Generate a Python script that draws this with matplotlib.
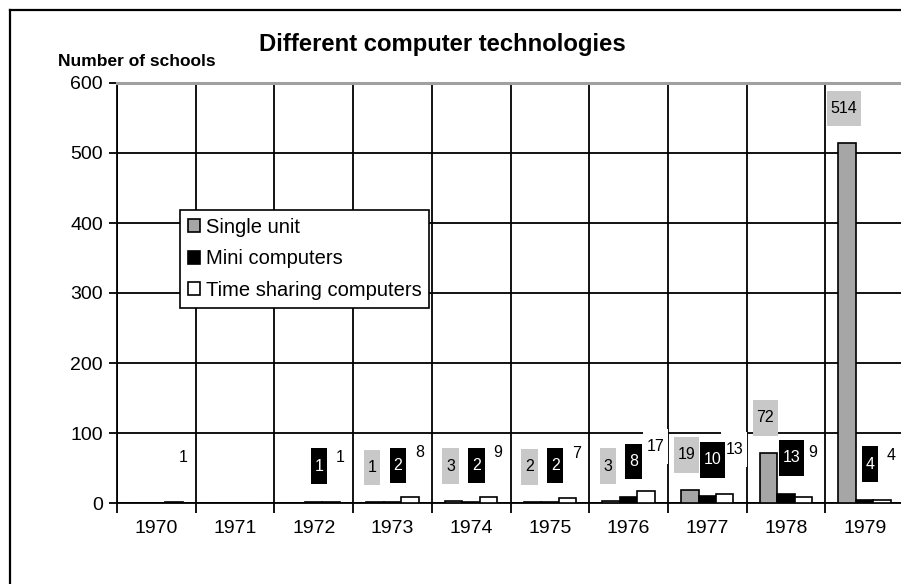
import numpy as np
import matplotlib
matplotlib.use("Agg")
import matplotlib.pyplot as plt
from matplotlib.path import Path
from matplotlib.lines import Line2D

plt.rcParams['font.family'] = ['Liberation Sans', 'DejaVu Sans']

years = ["1970", "1971", "1972", "1973", "1974", "1975", "1976", "1977", "1978", "1979"]
single_unit = [np.nan, np.nan, np.nan, 1, 3, 2, 3, 19, 72, 514]
mini_computers = [np.nan, np.nan, 1, 2, 2, 2, 8, 10, 13, 4]
time_sharing = [1, np.nan, 1, 8, 9, 7, 17, 13, 9, 4]
series_names = ["Single unit", "Mini computers", "Time sharing computers"]
yticks = [0, 100, 200, 300, 400, 500, 600]

fig = plt.figure(figsize=(9.01, 5.84), dpi=100)
ax = fig.add_axes([117/901, 1-503/584, 787/901, 420/584])

x = np.arange(len(years))
w = 0.222
series = [single_unit, mini_computers, time_sharing]
fills = ['#a6a6a6', '#000000', '#ffffff']
box_fc = ['#c8c8c8', '#000000', '#ffffff']
txt_c = ['#000000', '#ffffff', '#000000']
offsets = [-w, 0, w]
label_dx = [-2.2, 3.8, 6.8]     # points
label_dy = [25, 26, 32]         # points
zorders = [5, 5.2, 5.1]

def tallbox(x0, y0, width, height, mutation_size):
    padx = 0.24 * mutation_size
    pady = 0.64 * mutation_size
    verts = [(x0 - padx, y0 - pady), (x0 + width + padx, y0 - pady),
             (x0 + width + padx, y0 + height + pady), (x0 - padx, y0 + height + pady),
             (x0 - padx, y0 - pady)]
    return Path(verts, closed=True)

for s, vals in enumerate(series):
    vals = np.array(vals, dtype=float)
    ax.bar(x + offsets[s], np.nan_to_num(vals), width=w, color=fills[s],
           edgecolor='black', linewidth=1.2, zorder=3, label=series_names[s])
    for i, v in enumerate(vals):
        if np.isnan(v):
            continue
        ax.annotate(f"{int(v)}", (x[i] + offsets[s], v), xytext=(label_dx[s], label_dy[s]),
                    textcoords='offset points', ha='center', va='center',
                    fontsize=11.5, color=txt_c[s], zorder=zorders[s],
                    bbox=dict(boxstyle=tallbox, fc=box_fc[s], ec='none'))

ax.set_xlim(-0.5, 9.5)
ax.set_ylim(0, 600)
ax.set_yticks(yticks)
ax.set_yticklabels([str(t) for t in yticks], fontsize=14)
ax.set_xticks(x)
ax.set_xticklabels(years, fontsize=14)
ax.set_xticks(np.arange(-0.5, 10, 1), minor=True)
ax.tick_params(axis='x', which='major', length=0, pad=12)
ax.tick_params(axis='x', which='minor', length=7, width=1.3, direction='out')
ax.tick_params(axis='y', which='major', length=6, width=1.3, direction='out', pad=4)

ax.grid(axis='y', which='major', color='black', linewidth=1.3, zorder=1)
ax.grid(axis='x', which='minor', color='black', linewidth=1.3, zorder=1)
ax.set_axisbelow(True)
ax.spines['right'].set_visible(False)
ax.spines['top'].set_color('#a0a0a0')
ax.spines['top'].set_linewidth(2.2)
ax.spines['left'].set_linewidth(1.3)
ax.spines['bottom'].set_linewidth(1.3)

leg = ax.legend(loc='upper left', bbox_to_anchor=(0.08, 0.697), fontsize=14.5,
                frameon=True, fancybox=False, edgecolor='black', framealpha=1,
                handlelength=0.6, handleheight=0.6, handletextpad=0.3,
                labelspacing=0.62, borderpad=0.38, borderaxespad=0)
leg.get_frame().set_linewidth(1.2)
leg.set_zorder(6)

fig.text(0.491, 1-44/584, "Different computer technologies", ha='center', va='center',
         fontsize=17.2, fontweight='bold')
fig.text(137/901, 1-62/584, "Number of schools", ha='center', va='center',
         fontsize=12.5, fontweight='bold')

x0 = 10/901
y0 = 1-10/584
fig.add_artist(Line2D([x0, x0], [y0, -0.1], transform=fig.transFigure, color='black', linewidth=1.6))
fig.add_artist(Line2D([x0, 1.1], [y0, y0], transform=fig.transFigure, color='black', linewidth=1.6))

fig.savefig("out.png", dpi=100)
